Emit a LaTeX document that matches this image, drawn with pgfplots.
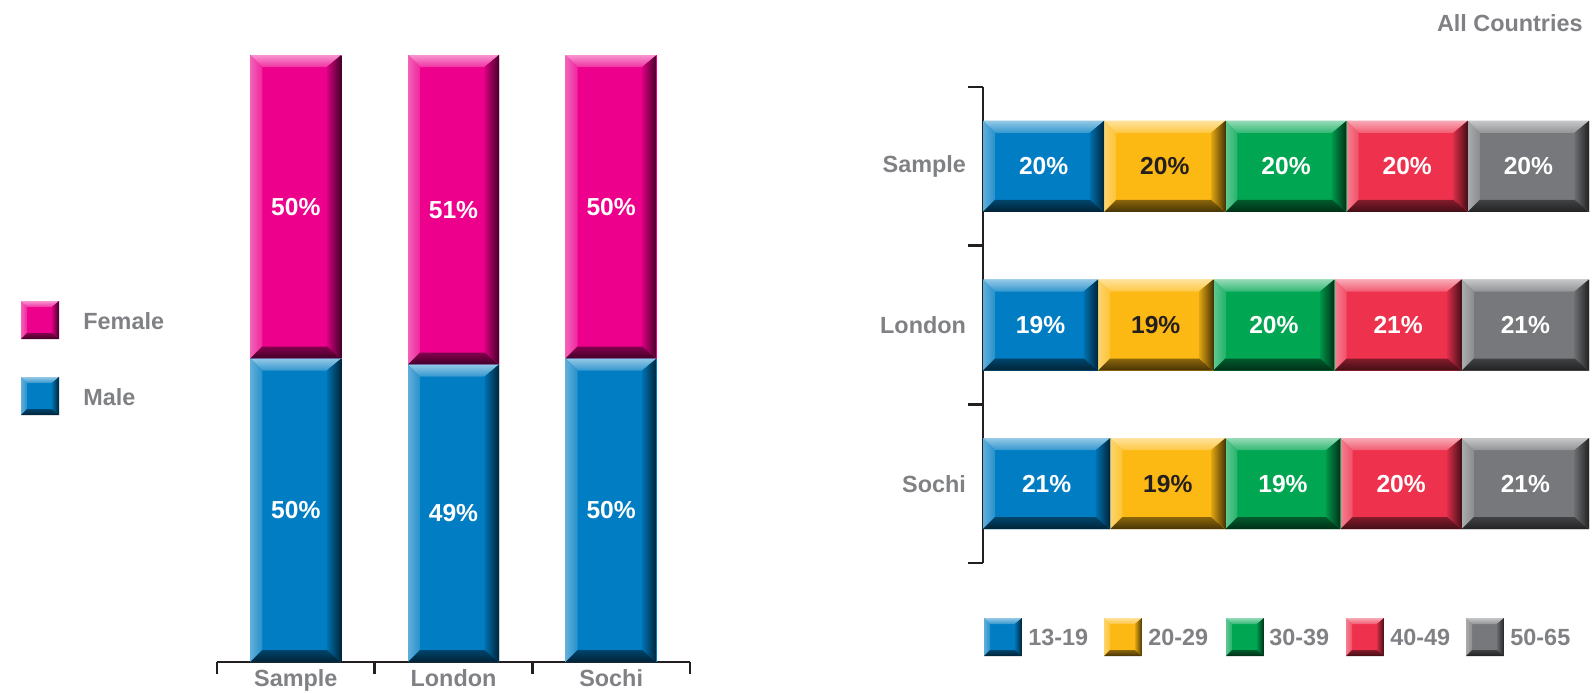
\documentclass[border=0pt]{standalone}
\usepackage{pgfplots}
\pgfplotsset{compat=1.18}
\usepackage{fontspec}
\setmainfont{Liberation Sans}
\definecolor{cblue}{RGB}{0,125,195}
\definecolor{cpink}{RGB}{236,0,140}
\definecolor{cyellow}{RGB}{253,185,19}
\definecolor{cgreen}{RGB}{0,166,81}
\definecolor{cred}{RGB}{238,50,78}
\definecolor{cgray}{RGB}{119,120,123}
\definecolor{ctext}{RGB}{128,129,132}
\definecolor{caxis}{RGB}{35,31,32}
\newlength\bv
\setlength\bv{6pt}
\newif\ifbevelin
\newcommand\tf{\fontsize{11.7}{14}\selectfont\bfseries}
\newcommand\lf{\fontsize{12.3}{14}\selectfont\bfseries}
\tikzset{
  bevel/.style={fill=#1, draw=none, path picture={%
    \ifbevelin\else
    \bevelintrue
    \path (path picture bounding box.north west) coordinate (nw)
          (path picture bounding box.north east) coordinate (ne)
          (path picture bounding box.south west) coordinate (sw)
          (path picture bounding box.south east) coordinate (se);
    \shade[left color=#1!62!white, right color=#1!85!white] (nw) -- ([shift={(\bv,-\bv)}]nw) -- ([shift={(\bv,\bv)}]sw) -- (sw) -- cycle;
    \shade[top color=#1!42!white, bottom color=#1!80!white] (nw) -- (ne) -- ([shift={(-1.2\bv,-\bv)}]ne) -- ([shift={(\bv,-\bv)}]nw) -- cycle;
    \shade[left color=#1!90!black, right color=#1!28!black] (ne) -- (se) -- ([shift={(-1.2\bv,\bv)}]se) -- ([shift={(-1.2\bv,-\bv)}]ne) -- cycle;
    \shade[top color=#1!55!black, bottom color=#1!28!black] (sw) -- (se) -- ([shift={(-1.2\bv,\bv)}]se) -- ([shift={(\bv,\bv)}]sw) -- cycle;
    \fi
  }},
  lbl/.style={font=\lf, text=white},
  lbld/.style={font=\lf, text=caxis},
}
\pgfplotsset{
  leftax/.style={at={(108.5pt,15pt)}, anchor=south west, scale only axis,
    width=236.5pt, height=303.5pt, xmin=-0.5, xmax=2.5, ymin=0, ymax=100,
    ybar stacked, bar width=45.5pt, clip=false},
  rightax/.style={at={(491.5pt,64.5pt)}, anchor=south west, scale only axis,
    width=303pt, height=238pt, xmin=0, xmax=100, ymin=-0.5, ymax=2.5,
    xbar stacked, bar width=45.5pt, clip=false},
}
\begin{document}
\begin{tikzpicture}
\path[use as bounding box] (0,0) rectangle (796.5pt,346pt);

% ---------- left chart ----------
\begin{axis}[leftax,
  axis x line*=bottom, axis y line=none,
  axis line style={draw=caxis, line width=1.4pt, -},
  xtick={0,1,2}, xticklabels={Sample,London,Sochi}, major tick length=0pt,
  minor xtick={-0.5,0.5,1.5,2.5}, minor tick length=6pt, tick align=outside,
  minor tick style={draw=caxis, line width=1.4pt},
  xticklabel style={font=\tf, text=ctext},
  ytick=\empty]
\addplot[bevel=cblue] coordinates {(0,50)};
\addplot[bevel=cpink] coordinates {(0,50)};
\coordinate (A1) at (axis cs:0,25);
\coordinate (A2) at (axis cs:0,75);
\end{axis}
\begin{axis}[leftax, hide axis]
\addplot[bevel=cblue] coordinates {(1,49)};
\addplot[bevel=cpink] coordinates {(1,51)};
\coordinate (B1) at (axis cs:1,24.5);
\coordinate (B2) at (axis cs:1,74.5);
\end{axis}
\begin{axis}[leftax, hide axis]
\addplot[bevel=cblue] coordinates {(2,50)};
\addplot[bevel=cpink] coordinates {(2,50)};
\coordinate (C1) at (axis cs:2,25);
\coordinate (C2) at (axis cs:2,75);
\end{axis}
\node[lbl] at (A1) {50\%};
\node[lbl] at (A2) {50\%};
\node[lbl] at (B1) {49\%};
\node[lbl] at (B2) {51\%};
\node[lbl] at (C1) {50\%};
\node[lbl] at (C2) {50\%};

% ---------- right chart ----------
\begin{axis}[rightax,
  axis y line*=left, axis x line=none,
  axis line style={draw=caxis, line width=1.4pt, -},
  ytick={0,1,2}, yticklabels={Sochi,London,Sample}, major tick length=0pt,
  minor ytick={-0.5,0.5,1.5,2.5}, minor tick length=7.5pt, tick align=outside,
  minor tick style={draw=caxis, line width=1.4pt},
  yticklabel style={font=\tf, text=ctext, xshift=-5pt},
  xtick=\empty]
\addplot[bevel=cblue] coordinates {(20,2)};
\addplot[bevel=cyellow] coordinates {(20,2)};
\addplot[bevel=cgreen] coordinates {(20,2)};
\addplot[bevel=cred] coordinates {(20,2)};
\addplot[bevel=cgray] coordinates {(20,2)};
\coordinate (S1) at (axis cs:10,2);
\coordinate (S2) at (axis cs:30,2);
\coordinate (S3) at (axis cs:50,2);
\coordinate (S4) at (axis cs:70,2);
\coordinate (S5) at (axis cs:90,2);
\end{axis}
\begin{axis}[rightax, hide axis]
\addplot[bevel=cblue] coordinates {(19,1)};
\addplot[bevel=cyellow] coordinates {(19,1)};
\addplot[bevel=cgreen] coordinates {(20,1)};
\addplot[bevel=cred] coordinates {(21,1)};
\addplot[bevel=cgray] coordinates {(21,1)};
\coordinate (L1) at (axis cs:9.5,1);
\coordinate (L2) at (axis cs:28.5,1);
\coordinate (L3) at (axis cs:48,1);
\coordinate (L4) at (axis cs:68.5,1);
\coordinate (L5) at (axis cs:89.5,1);
\end{axis}
\begin{axis}[rightax, hide axis]
\addplot[bevel=cblue] coordinates {(21,0)};
\addplot[bevel=cyellow] coordinates {(19,0)};
\addplot[bevel=cgreen] coordinates {(19,0)};
\addplot[bevel=cred] coordinates {(20,0)};
\addplot[bevel=cgray] coordinates {(21,0)};
\coordinate (O1) at (axis cs:10.5,0);
\coordinate (O2) at (axis cs:30.5,0);
\coordinate (O3) at (axis cs:49.5,0);
\coordinate (O4) at (axis cs:69,0);
\coordinate (O5) at (axis cs:89.5,0);
\end{axis}
\node[lbl] at (S1) {20\%};
\node[lbld] at (S2) {20\%};
\node[lbl] at (S3) {20\%};
\node[lbl] at (S4) {20\%};
\node[lbl] at (S5) {20\%};
\node[lbl] at (L1) {19\%};
\node[lbld] at (L2) {19\%};
\node[lbl] at (L3) {20\%};
\node[lbl] at (L4) {21\%};
\node[lbl] at (L5) {21\%};
\node[lbl] at (O1) {21\%};
\node[lbld] at (O2) {19\%};
\node[lbl] at (O3) {19\%};
\node[lbl] at (O4) {20\%};
\node[lbl] at (O5) {21\%};

% ---------- legends and title ----------
\setlength\bv{3pt}
\fill[bevel=cpink] (10.5pt,176.5pt) rectangle ++(19pt,19pt);
\node[anchor=west, inner sep=0, font=\tf, text=ctext] at (41.5pt,185.5pt) {Female};
\fill[bevel=cblue] (10.5pt,138.5pt) rectangle ++(19pt,19pt);
\node[anchor=west, inner sep=0, font=\tf, text=ctext] at (41.5pt,147.5pt) {Male};

\fill[bevel=cblue] (492pt,18pt) rectangle ++(19pt,19pt);
\node[anchor=west, inner sep=0, font=\tf, text=ctext] at (514pt,27.5pt) {13-19};
\fill[bevel=cyellow] (552pt,18pt) rectangle ++(19pt,19pt);
\node[anchor=west, inner sep=0, font=\tf, text=ctext] at (574pt,27.5pt) {20-29};
\fill[bevel=cgreen] (613pt,18pt) rectangle ++(19pt,19pt);
\node[anchor=west, inner sep=0, font=\tf, text=ctext] at (634.5pt,27.5pt) {30-39};
\fill[bevel=cred] (673pt,18pt) rectangle ++(19pt,19pt);
\node[anchor=west, inner sep=0, font=\tf, text=ctext] at (695pt,27.5pt) {40-49};
\fill[bevel=cgray] (733pt,18pt) rectangle ++(19pt,19pt);
\node[anchor=west, inner sep=0, font=\tf, text=ctext] at (755pt,27.5pt) {50-65};

\node[anchor=east, inner sep=0, font=\tf, text=ctext] at (791.5pt,334.5pt) {All Countries};
\end{tikzpicture}
\end{document}
